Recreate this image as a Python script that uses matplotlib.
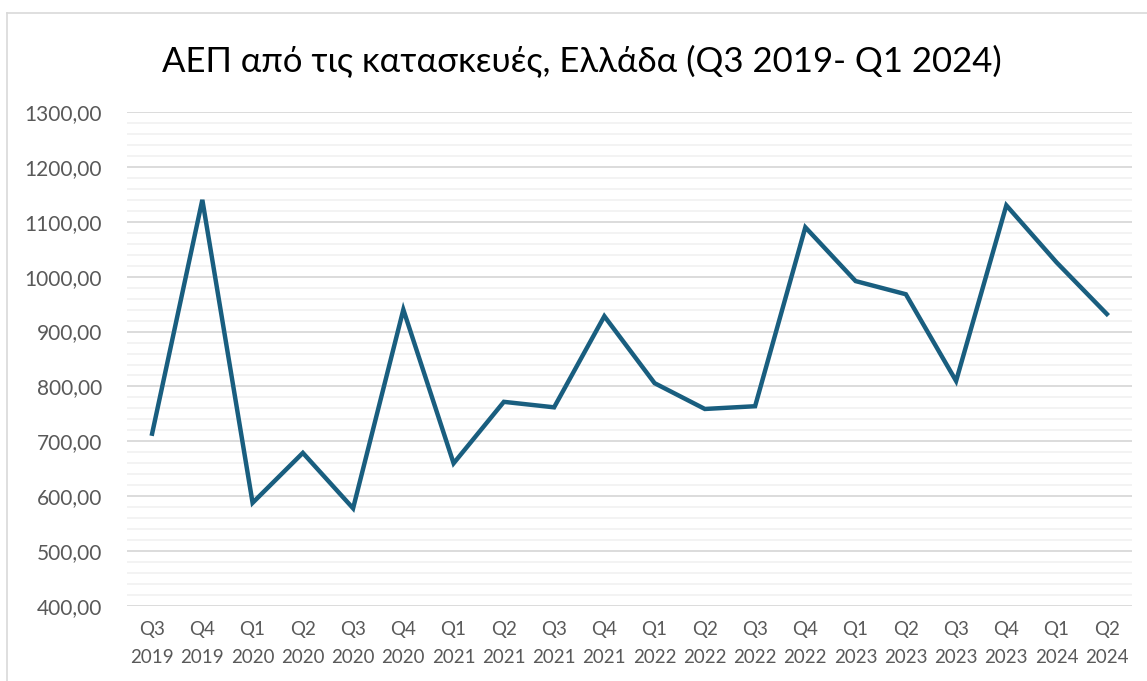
import matplotlib
matplotlib.use("Agg")
import matplotlib.pyplot as plt
from matplotlib.ticker import MultipleLocator, FuncFormatter
from matplotlib.lines import Line2D

plt.rcParams['font.family'] = ['Lato', 'DejaVu Sans']

quarters = ["Q3", "Q4", "Q1", "Q2", "Q3", "Q4", "Q1", "Q2", "Q3", "Q4",
            "Q1", "Q2", "Q3", "Q4", "Q1", "Q2", "Q3", "Q4", "Q1", "Q2"]
years = ["2019", "2019", "2020", "2020", "2020", "2020", "2021", "2021", "2021", "2021",
         "2022", "2022", "2022", "2022", "2023", "2023", "2023", "2023", "2024", "2024"]
gdp = [714, 1140, 588, 679, 578, 940, 660, 772, 762, 928,
       806, 759, 764, 1090, 992, 968, 810, 1130, 1026, 932]

labels = [q + "\n" + y for q, y in zip(quarters, years)]

fig = plt.figure(figsize=(11.47, 6.81), dpi=100)
ax = fig.add_axes([0.1107, 0.1101, 0.8762, 0.7254])

x = list(range(len(gdp)))
ax.plot(x, gdp, color="#195e7f", linewidth=3.2, solid_joinstyle="miter")

ax.set_xlim(-0.5, len(gdp) - 0.5)
ax.set_ylim(400, 1300)
ax.yaxis.set_major_locator(MultipleLocator(100))
ax.yaxis.set_minor_locator(MultipleLocator(20))
ax.yaxis.set_major_formatter(FuncFormatter(lambda v, p: f"{v:.2f}".replace(".", ",")))
ax.grid(which="major", axis="y", color="#d9d9d9", linewidth=1.3)
ax.grid(which="minor", axis="y", color="#f2f2f2", linewidth=1.3)
ax.set_axisbelow(True)

ax.set_xticks(x)
ax.set_xticklabels(labels, linespacing=1.75)
ax.tick_params(axis="x", length=0, pad=11, labelsize=13.5, colors="#595959")
ax.tick_params(axis="y", which="both", length=0, pad=18, labelsize=15, colors="#595959")
for s in ax.spines.values():
    s.set_visible(False)

fig.text(582 / 1147, 1 - 62 / 681, "ΑΕΠ από τις κατασκευές, Ελλάδα (Q3 2019- Q1 2024)",
         fontsize=25, ha="center", va="center", color="black")

# outer chart frame
fig.add_artist(Line2D([7 / 1147, 7 / 1147], [0, 1 - 13 / 681], color="#d9d9d9", linewidth=1.2))
fig.add_artist(Line2D([7 / 1147, 1], [1 - 13 / 681, 1 - 13 / 681], color="#d9d9d9", linewidth=1.2))

fig.savefig("out.png", dpi=100)
